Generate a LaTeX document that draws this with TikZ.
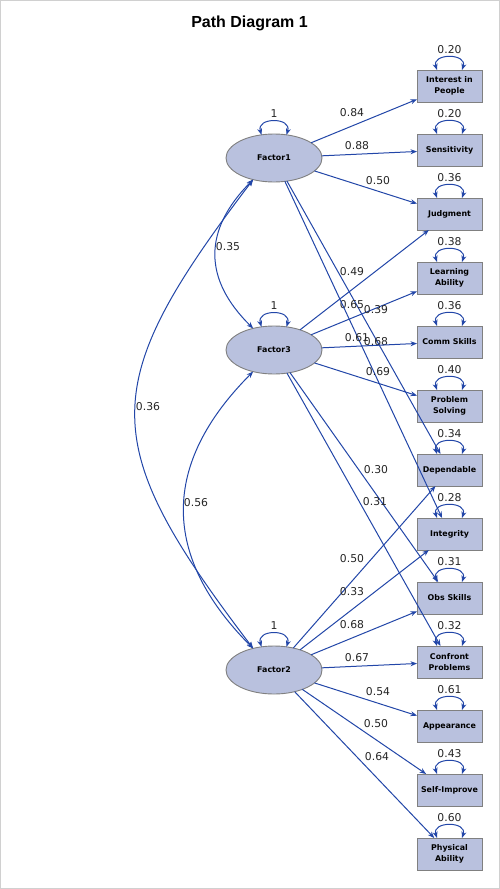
\documentclass[tikz,border=0pt]{standalone}
\usepackage{fontspec}
\setmainfont{DejaVu Sans}
\newfontfamily\titlefont{Liberation Sans}
\usetikzlibrary{arrows.meta,calc,shapes.geometric}
\definecolor{pline}{HTML}{2246A8}
\definecolor{pfill}{HTML}{B9C1DE}
\definecolor{pedge}{HTML}{808080}
\definecolor{pframe}{HTML}{D0D0D0}
\newcommand\vloop[3]{%
  \draw[dbl] ($(#1.north)+(-12.5,#2)$) .. controls ($(#1.north)+(-18,-17)$) and ($(#1.north)+(18,-17)$) .. ($(#1.north)+(12.5,#2)$);
  \node[num] (#1v) at ($(#1.north)+(0,-20)$) {#3};}
\begin{document}
\begin{tikzpicture}[x=1pt,y=-1pt,
  lat/.style={ellipse, draw=pedge, fill=pfill, minimum width=96pt, minimum height=48pt, inner sep=0pt, outer sep=0pt, font=\bfseries\fontsize{7.9}{10}\selectfont, line width=0.9pt},
  obs/.style={rectangle, draw=pedge, fill=pfill, minimum width=65pt, minimum height=32pt, inner sep=0pt, outer sep=0pt, align=center, font=\bfseries\fontsize{7.9}{10.5}\selectfont, line width=0.9pt},
  num/.style={inner sep=0pt, font=\fontsize{10.8}{13}\selectfont, text=black!85},
  pth/.style={draw=pline, line width=1pt, -{Stealth[length=6.5pt,width=5pt]}},
  dbl/.style={draw=pline, line width=1pt, {Stealth[length=6.5pt,width=5pt]}-{Stealth[length=6.5pt,width=5pt]}},
]
\useasboundingbox (0,0) rectangle (500,889);
\draw[pframe, fill=white, line width=1pt] (0.5,0.5) rectangle (499.5,888.5);
\node[anchor=base, font=\titlefont\bfseries\fontsize{16}{19}\selectfont] (title) at (249.5,27) {Path Diagram 1};

% latent factors
\node[lat] (f1) at (274,158) {Factor1};
\node[lat] (f3) at (274,350) {Factor3};
\node[lat] (f2) at (274,670) {Factor2};

% observed variables
\node[obs] (b1) at (449.5,86) {Interest in\\People};
\node[obs] (b2) at (449.5,150) {Sensitivity};
\node[obs] (b3) at (449.5,214) {Judgment};
\node[obs] (b4) at (449.5,278) {Learning\\Ability};
\node[obs] (b5) at (449.5,342) {Comm Skills};
\node[obs] (b6) at (449.5,406) {Problem\\Solving};
\node[obs] (b7) at (449.5,470) {Dependable};
\node[obs] (b8) at (449.5,534) {Integrity};
\node[obs] (b9) at (449.5,598) {Obs Skills};
\node[obs] (b10) at (449.5,662) {Confront\\Problems};
\node[obs] (b11) at (449.5,726) {Appearance};
\node[obs] (b12) at (449.5,790) {Self-Improve};
\node[obs] (b13) at (449.5,854) {Physical\\Ability};

% loadings
\draw[pth] (f1) -- (b1);  \node[num] (l1) at (352,113) {0.84};
\draw[pth] (f1) -- (b2);  \node[num] (l2) at (357,146) {0.88};
\draw[pth] (f1) -- (b3);  \node[num] (l3) at (378,181) {0.50};
\draw[pth] (f1) -- (b7);  \node[num] (l4) at (352,305) {0.65};
\draw[pth] (f1) -- (b8);  \node[num] (l5) at (376,342) {0.68};
\draw[pth] (f3) -- (b3);  \node[num] (l6) at (352,272) {0.49};
\draw[pth] (f3) -- (b4);  \node[num] (l7) at (376,310) {0.39};
\draw[pth] (f3) -- (b5);  \node[num] (l8) at (357,338) {0.61};
\draw[pth] (f3) -- (b6);  \node[num] (l9) at (378,372) {0.69};
\draw[pth] (f3) -- (b9);  \node[num] (l10) at (376,470) {0.30};
\draw[pth] (f3) -- (b10); \node[num] (l11) at (375,502) {0.31};
\draw[pth] (f2) -- (b7);  \node[num] (l12) at (352,559) {0.50};
\draw[pth] (f2) -- (b8);  \node[num] (l13) at (352,592) {0.33};
\draw[pth] (f2) -- (b9);  \node[num] (l14) at (352,625) {0.68};
\draw[pth] (f2) -- (b10); \node[num] (l15) at (357,658) {0.67};
\draw[pth] (f2) -- (b11); \node[num] (l16) at (378,692) {0.54};
\draw[pth] (f2) -- (b12); \node[num] (l17) at (376,724) {0.50};
\draw[pth] (f2) -- (b13); \node[num] (l18) at (377,757) {0.64};

% covariances
\draw[dbl] (f1.226) .. controls (203,230) and (203,279) .. (f3.134);
\node[num] (c13) at (228,247) {0.35};
\draw[dbl] (f3.226) .. controls (161,464) and (161,556) .. (f2.134);
\node[num] (c32) at (196,503) {0.56};
\draw[dbl] (f1.226) .. controls (96,386) and (96,442) .. (f2.134);
\node[num] (c12) at (148,407) {0.36};

% variances
\vloop{f1}{0.8}{1}
\vloop{f3}{0.8}{1}
\vloop{f2}{0.8}{1}
\vloop{b1}{0}{0.20}
\vloop{b2}{0}{0.20}
\vloop{b3}{0}{0.36}
\vloop{b4}{0}{0.38}
\vloop{b5}{0}{0.36}
\vloop{b6}{0}{0.40}
\vloop{b7}{0}{0.34}
\vloop{b8}{0}{0.28}
\vloop{b9}{0}{0.31}
\vloop{b10}{0}{0.32}
\vloop{b11}{0}{0.61}
\vloop{b12}{0}{0.43}
\vloop{b13}{0}{0.60}
\end{tikzpicture}
\end{document}
